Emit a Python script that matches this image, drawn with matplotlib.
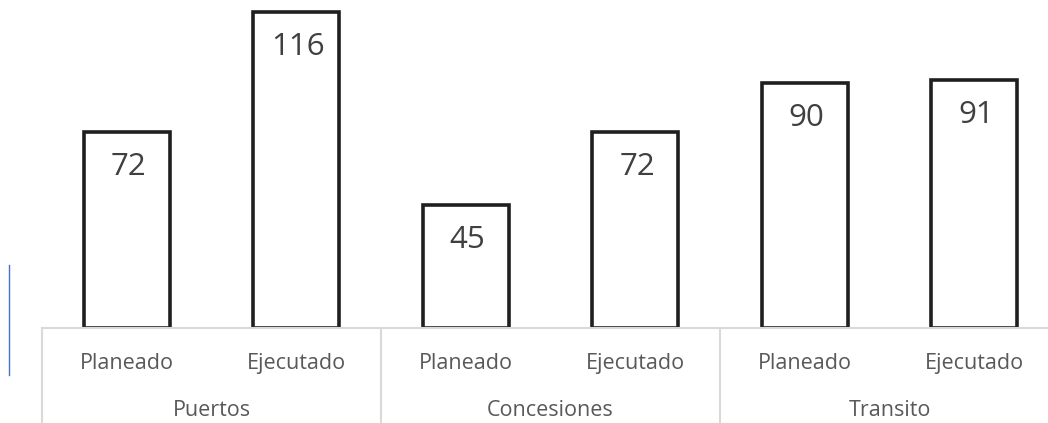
import matplotlib.pyplot as plt
from matplotlib.lines import Line2D
import matplotlib.transforms as mtransforms

grupos = ['Puertos', 'Concesiones', 'Transito']
tipos = ['Planeado', 'Ejecutado']
valores = [72, 116, 45, 72, 90, 91]

plt.rcParams['font.family'] = ['Open Sans', 'DejaVu Sans']

W, H = 1048, 423
fig = plt.figure(figsize=(W / 100, H / 100), dpi=100)
# the plot area runs past the right edge, as in the original
ax = fig.add_axes([42 / W, 95 / H, 1017 / W, 328 / H])
ax.set_xlim(-0.5, 5.5)
ax.set_ylim(0, 328 / 2.724)
ax.axis('off')

x = list(range(len(valores)))
ax.bar(x, valores, width=0.51, color='white', edgecolor='#1f1f1f', linewidth=2.6, zorder=2)

# labels inside the bars, a fixed distance below the top
off = mtransforms.offset_copy(ax.transData, fig=fig, x=2, y=-35, units='dots')
for xi, v in zip(x, valores):
    ax.text(xi, v, str(v), transform=off, ha='center', va='center',
            fontsize=22.5, color='#404040', zorder=3)

# category axis line
trans = mtransforms.blended_transform_factory(ax.transData, ax.transAxes)
ax.plot([-0.5, 5.6], [0, 0], transform=trans, color='#d9d9d9', lw=1.5, clip_on=False, zorder=4)
for sep in [-0.5, 1.5, 3.5, 5.5]:
    ax.plot([sep, sep], [0, -95 / 328], transform=trans, color='#d9d9d9', lw=1.5, clip_on=False)

for i, xi in enumerate(x):
    ax.text(xi, -35 / 328, tipos[i % 2], transform=trans, ha='center', va='center',
            fontsize=15.5, color='#595959')
for g, nombre in enumerate(grupos):
    ax.text(2 * g + 0.5, -82 / 328, nombre, transform=trans, ha='center', va='center',
            fontsize=15.5, color='#595959')

fig.add_artist(Line2D([8.5 / W, 8.5 / W], [(H - 265) / H, (H - 375) / H],
                      color='#4472c4', lw=1))

fig.savefig('out.png', dpi=100)
